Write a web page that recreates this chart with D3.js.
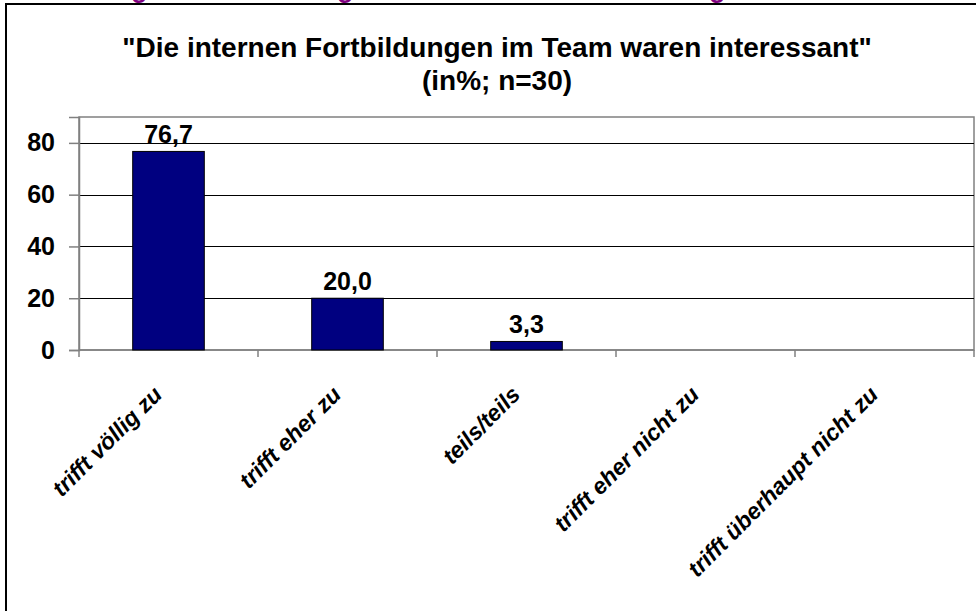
<!DOCTYPE html>
<html>
<head>
<meta charset="utf-8">
<script src="https://cdn.jsdelivr.net/npm/d3@7"></script>
<style>
  html, body { margin: 0; padding: 0; background: #fff; overflow: hidden; }
  svg { display: block; font-family: "Liberation Sans", Arial, sans-serif; }
</style>
</head>
<body>
<div id="chart"></div>
<script>
// Survey answers, in percent (n=30)
var categories = ['trifft völlig zu', 'trifft eher zu', 'teils/teils',
                  'trifft eher nicht zu', 'trifft überhaupt nicht zu'];
var values = [76.7, 20.0, 3.3, 0, 0];
var yTicks = [0, 20, 40, 60, 80];
var titleLines = ['"Die internen Fortbildungen im Team waren interessant"', '(in%; n=30)'];

var W = 976, H = 611;
var plot = { left: 79, right: 974, top: 117, bottom: 350 };

var de = d3.formatLocale({ decimal: ',', thousands: '.', grouping: [3], currency: ['', ' €'] });
var fmt = de.format('.1f');

var svg = d3.select('#chart').append('svg')
  .attr('width', W).attr('height', H);

// heading above the frame, cut off by the page edge (only descenders show)
var head = svg.append('g')
  .attr('fill', '#800080')
  .attr('font-weight', 'bold')
  .attr('font-size', 27);
[131, 337, 709].forEach(function (x) {
  head.append('text').attr('x', x).attr('y', -3).text('g');
});

// outer chart frame (runs off the right / bottom edge)
svg.append('rect')
  .attr('x', 6).attr('y', 4)
  .attr('width', W + 10).attr('height', H + 10)
  .attr('fill', 'none')
  .attr('stroke', '#000')
  .attr('stroke-width', 2);

// title
svg.append('text')
  .attr('text-anchor', 'middle')
  .attr('font-weight', 'bold')
  .attr('font-size', 28)
  .selectAll('tspan')
  .data(titleLines)
  .join('tspan')
    .attr('x', 497)
    .attr('y', function (d, i) { return 57 + i * 33; })
    .text(function (d) { return d; });

var x = d3.scaleBand()
  .domain(categories)
  .range([plot.left, plot.right])
  .padding(0);

var y = d3.scaleLinear()
  .domain([0, 90])
  .range([plot.bottom, plot.top]);

// plot area border
svg.append('rect')
  .attr('x', plot.left).attr('y', plot.top)
  .attr('width', plot.right - plot.left)
  .attr('height', plot.bottom - plot.top)
  .attr('fill', 'none')
  .attr('stroke', '#808080')
  .attr('stroke-width', 1.5);

// gridlines
svg.append('g')
  .selectAll('line')
  .data(yTicks.filter(function (d) { return d > 0; }))
  .join('line')
    .attr('x1', plot.left).attr('x2', plot.right)
    .attr('y1', function (d) { return Math.round(y(d)) + 0.5; })
    .attr('y2', function (d) { return Math.round(y(d)) + 0.5; })
    .attr('stroke', '#000')
    .attr('stroke-width', 1);

// y axis
var yAxis = svg.append('g')
  .attr('transform', 'translate(' + plot.left + ',0)')
  .call(d3.axisLeft(y).tickValues(yTicks).tickSize(10).tickPadding(14).tickFormat(d3.format('d')));
yAxis.select('.domain').attr('stroke', '#808080').attr('stroke-width', 1.5);
yAxis.selectAll('.tick line').attr('stroke', '#808080').attr('stroke-width', 1.5);
yAxis.selectAll('.tick text')
  .attr('font-family', '"Liberation Sans", Arial, sans-serif')
  .attr('font-size', 25)
  .attr('font-weight', 'bold')
  .attr('fill', '#000');

// x axis: ticks sit on category boundaries
var bounds = categories.map(function (c) { return x(c); }).concat([plot.right]);
svg.append('line')
  .attr('x1', plot.left).attr('x2', plot.right)
  .attr('y1', plot.bottom).attr('y2', plot.bottom)
  .attr('stroke', '#808080').attr('stroke-width', 1.5);
svg.append('g')
  .selectAll('line')
  .data(bounds)
  .join('line')
    .attr('x1', function (d) { return d; }).attr('x2', function (d) { return d; })
    .attr('y1', plot.bottom).attr('y2', plot.bottom + 7)
    .attr('stroke', '#808080').attr('stroke-width', 1.5);

// category labels, rotated 45°
svg.append('g')
  .selectAll('text')
  .data(categories)
  .join('text')
    .attr('transform', function (d) {
      return 'translate(' + (x(d) + x.bandwidth() / 2 - 5) + ',' + 396 + ') rotate(-45)';
    })
    .attr('text-anchor', 'end')
    .attr('font-size', 23)
    .attr('font-weight', 'bold')
    .attr('font-style', 'italic')
    .text(function (d) { return d; });

// bars
var barW = x.bandwidth() * 0.4;
svg.append('g')
  .selectAll('rect')
  .data(values.map(function (v, i) { return { c: categories[i], v: v }; }).filter(function (d) { return d.v > 0; }))
  .join('rect')
    .attr('x', function (d) { return x(d.c) + (x.bandwidth() - barW) / 2; })
    .attr('y', function (d) { return y(d.v); })
    .attr('width', barW)
    .attr('height', function (d) { return y(0) - y(d.v); })
    .attr('fill', '#000080')
    .attr('stroke', '#000')
    .attr('stroke-width', 1);

// value labels
svg.append('g')
  .selectAll('text')
  .data(values.map(function (v, i) { return { c: categories[i], v: v }; }).filter(function (d) { return d.v > 0; }))
  .join('text')
    .attr('x', function (d) { return x(d.c) + x.bandwidth() / 2; })
    .attr('y', function (d) { return y(d.v) - 8; })
    .attr('text-anchor', 'middle')
    .attr('font-size', 25)
    .attr('font-weight', 'bold')
    .text(function (d) { return fmt(d.v); });
</script>
</body>
</html>
